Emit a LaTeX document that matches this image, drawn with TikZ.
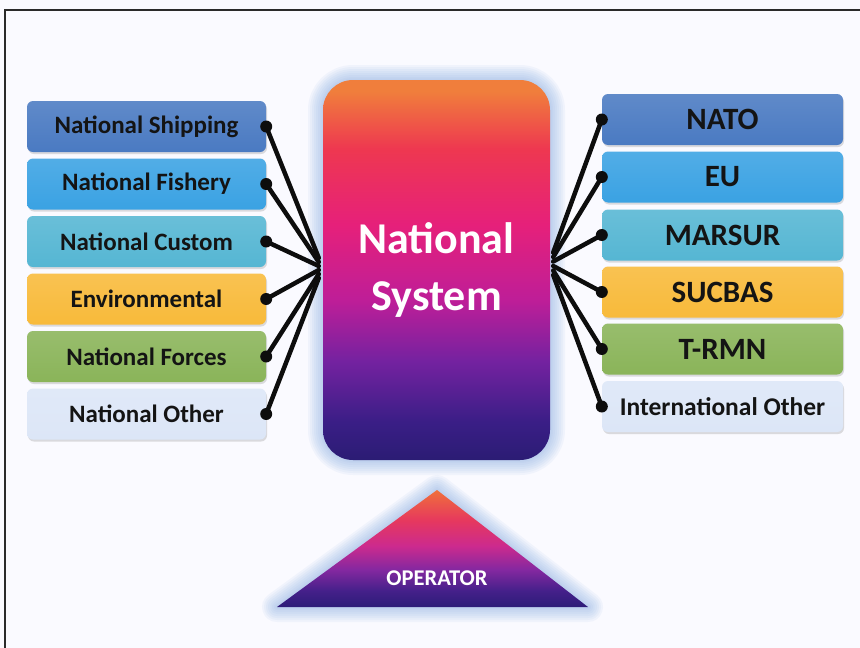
\documentclass[tikz,border=0pt]{standalone}
\usepackage{fontspec}
\setmainfont{Carlito}
\usetikzlibrary{shadows,calc}

% box colours
\definecolor{cShip}{HTML}{4A7AC2}
\definecolor{cFish}{HTML}{3AA2E3}
\definecolor{cCust}{HTML}{55B6D3}
\definecolor{cEnv}{HTML}{F8BA3A}
\definecolor{cForce}{HTML}{8AB459}
\definecolor{cOther}{HTML}{DCE6F7}
\definecolor{glowc}{HTML}{8AAEE4}
\definecolor{frame}{HTML}{2A2A2A}

% central box gradient, bottom to top
\definecolor{nsA}{HTML}{2B1C74}
\definecolor{nsB}{HTML}{3A1E86}
\definecolor{nsC}{HTML}{7422A0}
\definecolor{nsD}{HTML}{BE1E98}
\definecolor{nsE}{HTML}{E6207A}
\definecolor{nsF}{HTML}{EE3850}
\definecolor{nsG}{HTML}{F07E3C}
\pgfdeclareverticalshading{nsshade}{100bp}{color(0bp)=(nsA); color(25bp)=(nsA); color(30bp)=(nsB); color(38bp)=(nsC); color(46bp)=(nsD); color(56bp)=(nsE); color(66bp)=(nsF); color(73.5bp)=(nsG); color(75bp)=(nsG); color(100bp)=(nsG)}

% operator triangle gradient, bottom to top
\definecolor{opA}{HTML}{2C1C78}
\definecolor{opB}{HTML}{45208A}
\definecolor{opC}{HTML}{8428A0}
\definecolor{opD}{HTML}{CC2A8E}
\definecolor{opE}{HTML}{E6385E}
\definecolor{opF}{HTML}{F0703A}
\pgfdeclareverticalshading{opshade}{100bp}{color(0bp)=(opA); color(25bp)=(opA); color(32bp)=(opB); color(41bp)=(opC); color(51bp)=(opD); color(62bp)=(opE); color(75bp)=(opF); color(100bp)=(opF)}

\tikzset{
  halo/.style={preaction={draw=glowc, line width=#1, opacity=0.085, line join=round}},
  glow/.style={halo=30pt, halo=26pt, halo=22pt, halo=18pt, halo=14pt,
    halo=10pt, halo=6pt, halo=3pt},
  labelbox/.style={rectangle, rounded corners=6pt, inner sep=0pt,
    minimum height=51pt, text=black!92,
    drop shadow={shadow xshift=1pt, shadow yshift=-2pt, opacity=0.22, fill=black!60},
    top color=#1!88!white, bottom color=#1},
  leftbox/.style={labelbox=#1, minimum width=239pt,
    font=\bfseries\fontsize{25}{30}\selectfont},
  rightbox/.style={labelbox=#1, minimum width=241pt,
    font=\bfseries\fontsize{31}{36}\selectfont},
  conn/.style={line width=4.5pt, black!95, line cap=round},
  dot/.style={fill=black!95}
}

\begin{document}
\begin{tikzpicture}[x=1pt, y=-1pt]
  \useasboundingbox (0,0) rectangle (860,648);
  \fill[white!98!blue] (0,0) rectangle (860,648);
  \draw[frame, line width=2pt] (5,648) -- (5,10) -- (860,10);

  % central system box
  \node[glow, rectangle, rounded corners=30pt, minimum width=227pt,
        minimum height=380pt, shading=nsshade, inner sep=0pt,
        text=white, align=center, font=\bfseries\fontsize{44}{57}\selectfont]
        (ns) at (436.5,270) {National\\System};

  % operator triangle
  \path[glow, shading=opshade] (437,490) -- (588,607) -- (277,607) -- cycle;
  \node[text=white, font=\bfseries\fontsize{22.5}{26}\selectfont] (op) at (437,578) {OPERATOR};

  % national sources
  \node[leftbox=cShip]  (L1) at (146.5,126.5) {National Shipping};
  \node[leftbox=cFish]  (L2) at (146.5,184)   {National Fishery};
  \node[leftbox=cCust]  (L3) at (146.5,241.5) {National Custom};
  \node[leftbox=cEnv]   (L4) at (146.5,299)   {Environmental};
  \node[leftbox=cForce] (L5) at (146.5,356.5) {National Forces};
  \node[leftbox=cOther] (L6) at (146.5,414)   {National Other};

  % international partners
  \node[rightbox=cShip]  (R1) at (722.5,119.5) {NATO};
  \node[rightbox=cFish]  (R2) at (722.5,177)   {EU};
  \node[rightbox=cCust]  (R3) at (722.5,235)   {MARSUR};
  \node[rightbox=cEnv]   (R4) at (722.5,292)   {SUCBAS};
  \node[rightbox=cForce] (R5) at (722.5,349)   {T-RMN};
  \node[rightbox=cOther, font=\bfseries\fontsize{25.5}{30}\selectfont] (R6) at (722.5,406.5) {International Other};

  % meeting points on the sides of the central box
  \foreach \i in {1,...,6} {
    \coordinate (lj\i) at ($(ns.west)+(-4,-16+\i*4)$);
    \coordinate (rj\i) at ($(ns.east)+(3,-22+\i*4.5)$);
  }

  % connectors
  \foreach \i in {1,...,6} {
    \draw[conn] (L\i.east) -- (lj\i);
    \fill[dot] (L\i.east) circle (6pt);
    \draw[conn] (R\i.west) -- (rj\i);
    \fill[dot] (R\i.west) circle (6pt);
  }
\end{tikzpicture}
\end{document}
